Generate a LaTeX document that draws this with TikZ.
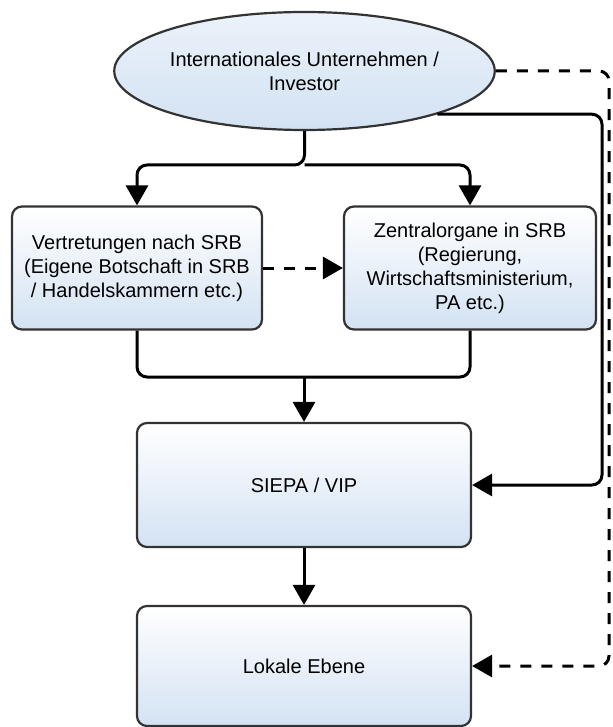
\documentclass[tikz,border=0pt]{standalone}
\usepackage{fontspec}
\setmainfont{Liberation Sans}
\usepackage{tikz}
\usetikzlibrary{arrows.meta,shapes.geometric}
\definecolor{boxblue}{HTML}{D3E2F3}
\definecolor{boxline}{HTML}{333333}

\begin{document}
\begin{tikzpicture}[x=0.5pt,y=-0.5pt,font=\fontsize{10}{12}\selectfont]
			\tikzstyle{box}=[draw=boxline,line width=1.1pt,rounded corners=5pt,top color=white,bottom color=boxblue,align=center,inner sep=2pt]
			\tikzstyle{oval}=[ellipse,draw=boxline,line width=1.1pt,top color=boxblue!45,bottom color=boxblue,align=center,minimum width=167.5pt,minimum height=59pt,inner sep=0pt]
			\tikzstyle{flow}=[line width=1.5pt,rounded corners=5pt,-{Triangle[width=11pt,length=10pt]}]
			\tikzstyle{dflow}=[flow,dash pattern=on 5.5pt off 5pt]
			\useasboundingbox (0,0) rectangle (613,727);
			\node [oval] (inv) at (304.5,71) {Internationales Unternehmen /\\Investor};
			\node [box,minimum width=125pt,minimum height=61.5pt] (vert) at (137,268) {Vertretungen nach SRB\\(Eigene Botschaft in SRB\\/ Handelskammern etc.)};
			\node [box,minimum width=126pt,minimum height=61.5pt] (zentral) at (470,268) {Zentralorgane in SRB\\(Regierung,\\Wirtschaftsministerium,\\PA etc.)};
			\node [box,minimum width=167pt,minimum height=62pt] (siepa) at (304,485) {SIEPA / VIP};
			\node [box,minimum width=167pt,minimum height=60pt] (lokal) at (304,666) {Lokale Ebene};
			\coordinate (fork) at (304.5,165);
			\coordinate (merge) at (304,377);
			\coordinate (rx) at (602,0);
			\coordinate (dx) at (609,0);
			% from investor down to both
			\draw [flow] (inv.south) -- (fork) -| (vert.north);
			\draw [flow] (fork) -| (zentral.north);
			\draw [dflow] (vert.east) -- (zentral.west);
			% both into SIEPA
			\draw [line width=1.5pt,rounded corners=5pt] (vert.south) |- (merge);
			\draw [line width=1.5pt,rounded corners=5pt] (zentral.south) |- (merge);
			\draw [flow] (merge) -- (siepa.north);
			\draw [flow] (siepa.south) -- (lokal.north);
			% direct ways on the right
			\draw [flow] (inv.-18) -- (inv.-18 -| rx) |- (siepa.east);
			\draw [dflow] (inv.east) -- (inv.east -| dx) |- (lokal.east);
			\end{tikzpicture}
\end{document}
